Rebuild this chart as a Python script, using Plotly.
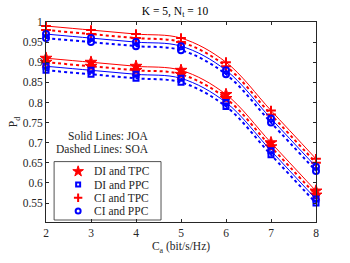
import plotly.graph_objects as go

ca = [2, 3, 4, 5, 6, 7, 8]

di_tpc_joa = [0.91, 0.90, 0.89, 0.88, 0.82, 0.70, 0.58]
di_tpc_soa = [0.90, 0.89, 0.88, 0.87, 0.81, 0.69, 0.57]
di_ppc_joa = [0.89, 0.88, 0.87, 0.86, 0.80, 0.68, 0.56]
di_ppc_soa = [0.88, 0.87, 0.86, 0.85, 0.79, 0.67, 0.55]
ci_tpc_joa = [0.99, 0.98, 0.97, 0.96, 0.90, 0.78, 0.66]
ci_tpc_soa = [0.98, 0.97, 0.96, 0.95, 0.89, 0.77, 0.65]
ci_ppc_joa = [0.97, 0.96, 0.95, 0.94, 0.88, 0.76, 0.64]
ci_ppc_soa = [0.96, 0.95, 0.94, 0.93, 0.87, 0.75, 0.63]

legend_names = ["DI and TPC", "DI and PPC", "CI and TPC", "CI and PPC"]

RED = "#ff0000"
BLUE = "#0000ff"

series = [
    (di_tpc_joa, di_tpc_soa, RED, "star", 9, 1),
    (di_ppc_joa, di_ppc_soa, BLUE, "square-open", 5, 2),
    (ci_tpc_joa, ci_tpc_soa, RED, "cross-thin-open", 7, 2),
    (ci_ppc_joa, ci_ppc_soa, BLUE, "circle-open", 6, 2),
]

fig = go.Figure()
for joa, soa, col, sym, sz, lw in series:
    mk = dict(symbol=sym, size=sz, color=col, line=dict(color=col, width=lw))
    fig.add_trace(go.Scatter(x=ca, y=joa, mode="lines+markers", cliponaxis=False,
                             line=dict(color=col, width=1, shape="spline"),
                             marker=mk, showlegend=False))
    fig.add_trace(go.Scatter(x=ca, y=soa, mode="lines+markers", cliponaxis=False,
                             line=dict(color=col, width=2, dash="dot", shape="spline"),
                             marker=mk, showlegend=False))

font = dict(family="Liberation Serif, Times New Roman, serif", size=11.5, color="#262626")
tfont = dict(family=font["family"], size=11.5, color="#262626")

# manual legend (compact, MATLAB-like)
leg_x0, leg_x1, leg_top, leg_bot = 0.030, 0.426, 0.302, 0.010
row_y = [0.253, 0.187, 0.121, 0.055]
sym_x = 0.119
txt_x = 0.174
fig.add_shape(type="rect", xref="paper", yref="paper", x0=leg_x0, x1=leg_x1, y0=leg_bot, y1=leg_top,
              line=dict(color="#262626", width=0.8), fillcolor="white", layer="below")
for i, (name, (joa, soa, col, sym, sz, lw)) in enumerate(zip(legend_names, series)):
    fig.add_trace(go.Scatter(x=[sym_x], y=[row_y[i]], xaxis="x2", yaxis="y2", mode="markers",
                             showlegend=False, hoverinfo="skip", cliponaxis=False,
                             marker=dict(symbol=sym, size=sz - 1, color=col, line=dict(color=col, width=lw))))
    fig.add_annotation(text=name, xref="paper", yref="paper", x=txt_x, y=row_y[i],
                       xanchor="left", yanchor="middle", showarrow=False, font=tfont, borderpad=0)

axis_common = dict(showline=True, linecolor="#262626", linewidth=0.8, mirror="ticks", ticks="inside",
                   ticklen=3, tickcolor="#262626", showgrid=False, zeroline=False, tickfont=font)

fig.update_layout(
    width=350, height=263,
    margin=dict(l=46, r=34, t=22, b=39),
    paper_bgcolor="white", plot_bgcolor="white",
    font=font,
    showlegend=False,
    title=dict(text="K = 5, N<sub>t</sub> = 10", x=0.5, xanchor="center", y=0.975, yanchor="top",
               font=dict(family=font["family"], size=11.5, color="black")),
    xaxis=dict(range=[2, 8], tickvals=[2, 3, 4, 5, 6, 7, 8],
               title=dict(text="C<sub>a</sub> (bit/s/Hz)", font=font, standoff=4), **axis_common),
    yaxis=dict(range=[0.503, 1.0], tickvals=[0.55, 0.6, 0.65, 0.7, 0.75, 0.8, 0.85, 0.9, 0.95, 1],
               ticktext=["0.55", "0.6", "0.65", "0.7", "0.75", "0.8", "0.85", "0.9", "0.95", "1"],
               title=dict(text="P<sub>d</sub>", font=font, standoff=2), **axis_common),
    xaxis2=dict(overlaying="x", range=[0, 1], visible=False, fixedrange=True),
    yaxis2=dict(overlaying="y", range=[0, 1], visible=False, fixedrange=True),
)
fig.add_annotation(text="Solid Lines: JOA", x=0.385, xref="paper", y=0.428, yref="paper",
                   xanchor="right", yanchor="middle", showarrow=False, font=tfont, borderpad=0)
fig.add_annotation(text="Dashed Lines: SOA", x=0.385, xref="paper", y=0.364, yref="paper",
                   xanchor="right", yanchor="middle", showarrow=False, font=tfont, borderpad=0)

fig.write_html("out.html", config={"displayModeBar": False},
               post_script="document.body.style.margin='0';document.body.style.overflow='hidden';")
